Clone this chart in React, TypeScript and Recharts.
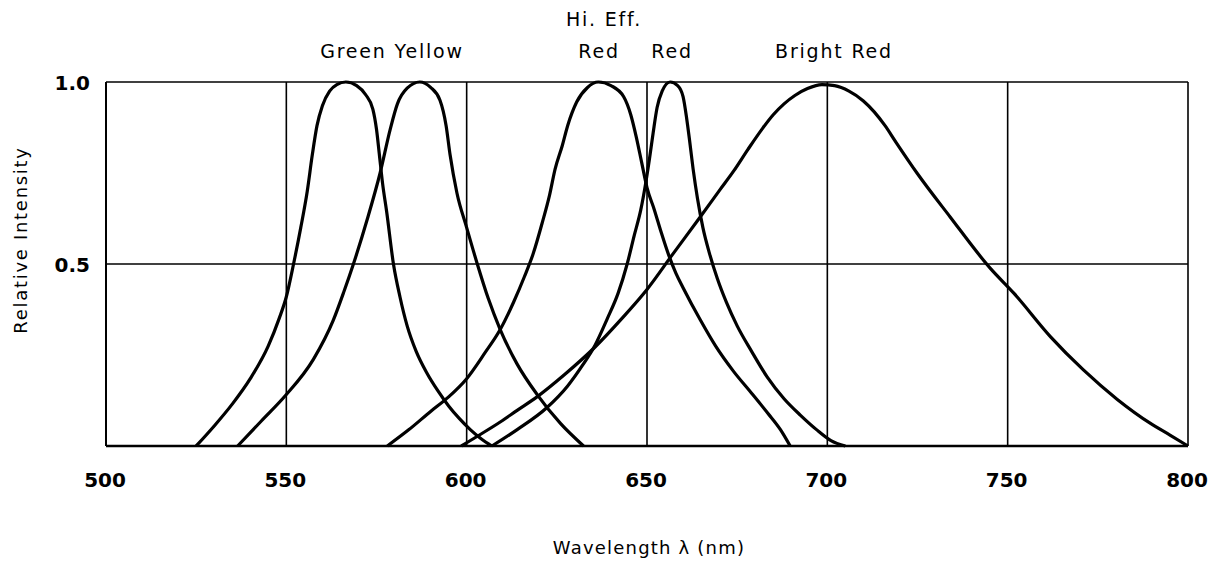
import { CartesianGrid, Line, LineChart, XAxis, YAxis } from "recharts";

type Pt = { nm: number; rel: number };

// wavelength ticks along the bottom
const nmTicks = [500, 550, 600, 650, 700, 750, 800];
const relTicks = [0, 0.5, 1];

// spectral curves (nm, relative intensity)
const greenYellow: Pt[] = [
  { nm: 525, rel: 0 }, { nm: 530, rel: 0.055 }, { nm: 535, rel: 0.115 },
  { nm: 540, rel: 0.185 }, { nm: 545, rel: 0.275 }, { nm: 548, rel: 0.35 },
  { nm: 550, rel: 0.41 }, { nm: 552, rel: 0.5 }, { nm: 554, rel: 0.6 },
  { nm: 555.8, rel: 0.7 }, { nm: 557.2, rel: 0.8 }, { nm: 558.5, rel: 0.88 },
  { nm: 560, rel: 0.935 }, { nm: 562, rel: 0.975 }, { nm: 564, rel: 0.993 },
  { nm: 566.5, rel: 1 }, { nm: 569.5, rel: 0.99 }, { nm: 572, rel: 0.965 },
  { nm: 574, rel: 0.925 }, { nm: 575, rel: 0.87 }, { nm: 575.8, rel: 0.8 },
  { nm: 576.7, rel: 0.72 }, { nm: 577.8, rel: 0.645 }, { nm: 579.7, rel: 0.5 },
  { nm: 581.5, rel: 0.41 }, { nm: 583.5, rel: 0.33 }, { nm: 586, rel: 0.26 },
  { nm: 589, rel: 0.2 }, { nm: 592, rel: 0.152 }, { nm: 595, rel: 0.11 },
  { nm: 598, rel: 0.075 }, { nm: 601, rel: 0.045 }, { nm: 604, rel: 0.02 },
  { nm: 607, rel: 0 },
];

const yellow: Pt[] = [
  { nm: 536.5, rel: 0 }, { nm: 543, rel: 0.068 }, { nm: 549.7, rel: 0.138 },
  { nm: 557.5, rel: 0.238 }, { nm: 563, rel: 0.345 }, { nm: 566, rel: 0.425 },
  { nm: 568.6, rel: 0.5 }, { nm: 572.5, rel: 0.625 }, { nm: 576, rel: 0.75 },
  { nm: 578.8, rel: 0.87 }, { nm: 580.8, rel: 0.94 }, { nm: 583.5, rel: 0.983 },
  { nm: 587, rel: 1 }, { nm: 590, rel: 0.985 }, { nm: 592.6, rel: 0.95 },
  { nm: 594.3, rel: 0.88 }, { nm: 595.4, rel: 0.8 }, { nm: 597.3, rel: 0.695 },
  { nm: 600, rel: 0.6 }, { nm: 602.8, rel: 0.505 }, { nm: 606, rel: 0.405 },
  { nm: 609.3, rel: 0.32 }, { nm: 614, rel: 0.225 }, { nm: 619.5, rel: 0.142 },
  { nm: 626, rel: 0.062 }, { nm: 632.4, rel: 0 },
];

const hiEffRed: Pt[] = [
  { nm: 578, rel: 0 }, { nm: 584, rel: 0.045 }, { nm: 590, rel: 0.095 },
  { nm: 595, rel: 0.135 }, { nm: 600, rel: 0.185 }, { nm: 605, rel: 0.255 },
  { nm: 609.3, rel: 0.32 }, { nm: 613, rel: 0.395 }, { nm: 616, rel: 0.465 },
  { nm: 618.5, rel: 0.53 }, { nm: 621, rel: 0.615 }, { nm: 623, rel: 0.69 },
  { nm: 624.5, rel: 0.76 }, { nm: 626.5, rel: 0.825 }, { nm: 628, rel: 0.88 },
  { nm: 630.5, rel: 0.945 }, { nm: 633.5, rel: 0.985 }, { nm: 636.5, rel: 1 },
  { nm: 640, rel: 0.99 }, { nm: 643.5, rel: 0.96 }, { nm: 645.5, rel: 0.91 },
  { nm: 647, rel: 0.85 }, { nm: 648.5, rel: 0.78 }, { nm: 650, rel: 0.71 },
  { nm: 652, rel: 0.65 }, { nm: 654, rel: 0.585 }, { nm: 656, rel: 0.525 },
  { nm: 658, rel: 0.475 }, { nm: 660, rel: 0.435 }, { nm: 664.8, rel: 0.346 },
  { nm: 669, rel: 0.275 }, { nm: 674, rel: 0.205 }, { nm: 679, rel: 0.145 },
  { nm: 683.5, rel: 0.09 }, { nm: 687, rel: 0.045 }, { nm: 689.7, rel: 0 },
];

const red: Pt[] = [
  { nm: 607, rel: 0 }, { nm: 614, rel: 0.045 }, { nm: 622.2, rel: 0.105 },
  { nm: 628, rel: 0.165 }, { nm: 632, rel: 0.22 }, { nm: 635.6, rel: 0.277 },
  { nm: 639, rel: 0.35 }, { nm: 642, rel: 0.42 }, { nm: 644.5, rel: 0.5 },
  { nm: 646.5, rel: 0.58 }, { nm: 648.3, rel: 0.65 }, { nm: 649.6, rel: 0.72 },
  { nm: 650.7, rel: 0.79 }, { nm: 651.7, rel: 0.86 }, { nm: 652.8, rel: 0.93 },
  { nm: 654.2, rel: 0.975 }, { nm: 656.4, rel: 1 }, { nm: 658.5, rel: 0.99 },
  { nm: 660, rel: 0.96 }, { nm: 661, rel: 0.9 }, { nm: 661.8, rel: 0.84 },
  { nm: 662.8, rel: 0.76 }, { nm: 664, rel: 0.68 }, { nm: 665.5, rel: 0.6 },
  { nm: 667.3, rel: 0.53 }, { nm: 669.5, rel: 0.46 }, { nm: 672, rel: 0.395 },
  { nm: 675, rel: 0.33 }, { nm: 679, rel: 0.26 }, { nm: 683.3, rel: 0.19 },
  { nm: 688, rel: 0.13 }, { nm: 692.5, rel: 0.085 }, { nm: 697, rel: 0.045 },
  { nm: 701, rel: 0.015 }, { nm: 705, rel: 0 },
];

const brightRed: Pt[] = [
  { nm: 598.5, rel: 0 }, { nm: 604, rel: 0.033 }, { nm: 609.3, rel: 0.066 },
  { nm: 614, rel: 0.098 }, { nm: 619.5, rel: 0.135 }, { nm: 627, rel: 0.195 },
  { nm: 635.6, rel: 0.272 }, { nm: 643, rel: 0.35 }, { nm: 650, rel: 0.43 },
  { nm: 657, rel: 0.525 }, { nm: 664.8, rel: 0.63 }, { nm: 670.3, rel: 0.705 },
  { nm: 674, rel: 0.755 }, { nm: 678, rel: 0.815 }, { nm: 682, rel: 0.872 },
  { nm: 685, rel: 0.91 }, { nm: 688, rel: 0.94 }, { nm: 691, rel: 0.963 },
  { nm: 694.5, rel: 0.982 }, { nm: 698.5, rel: 0.993 }, { nm: 702, rel: 0.99 },
  { nm: 706, rel: 0.975 }, { nm: 710, rel: 0.948 }, { nm: 713, rel: 0.918 },
  { nm: 716, rel: 0.88 }, { nm: 719, rel: 0.835 }, { nm: 725, rel: 0.748 },
  { nm: 734, rel: 0.63 }, { nm: 745.2, rel: 0.488 }, { nm: 751.7, rel: 0.42 },
  { nm: 761.9, rel: 0.3 }, { nm: 771, rel: 0.209 }, { nm: 780.4, rel: 0.128 },
  { nm: 789.6, rel: 0.062 }, { nm: 795, rel: 0.03 }, { nm: 800, rel: 0 },
];

const curves = [greenYellow, yellow, hiEffRed, red, brightRed];

const SANS = "'DejaVu Sans', 'Liberation Sans', sans-serif";

function XTick(props: any) {
  const { x, payload } = props;
  return (
    <text x={x - 1} y={487} textAnchor="middle" fontFamily={SANS} fontWeight="bold" fontSize={20} fill="#000">
      {payload.value}
    </text>
  );
}

function YTick(props: any) {
  const { y, payload } = props;
  if (payload.value === 0) return null;
  return (
    <text x={90} y={y + 8} textAnchor="end" fontFamily={SANS} fontWeight="bold" fontSize={20} fill="#000">
      {payload.value.toFixed(1)}
    </text>
  );
}

const topLabel = { fontFamily: SANS, fontSize: 19, letterSpacing: 1.8, fill: "#000" } as const;

export default function App() {
  return (
    <div style={{ position: "absolute", left: 0, top: 0, width: 1212, height: 565, background: "#fff" }}>
      <LineChart width={1212} height={565} margin={{ top: 82, right: 24, bottom: 0, left: 0 }}>
        <CartesianGrid stroke="#000" strokeWidth={1.6} />
        <XAxis
          dataKey="nm"
          type="number"
          domain={[500, 800]}
          ticks={nmTicks}
          height={119}
          tick={<XTick />}
          tickLine={false}
          axisLine={{ stroke: "#000", strokeWidth: 2.4 }}
          label={{
            content: () => (
              <text x={649} y={554} textAnchor="middle" fontFamily={SANS} fontSize={18} letterSpacing={1.2} fill="#000">
                Wavelength λ (nm)
              </text>
            ),
          }}
        />
        <YAxis
          type="number"
          domain={[0, 1]}
          ticks={relTicks}
          width={106}
          tick={<YTick />}
          tickLine={false}
          axisLine={{ stroke: "#000", strokeWidth: 2 }}
          label={{
            content: () => (
              <text
                x={27}
                y={240}
                transform="rotate(-90 27 240)"
                textAnchor="middle"
                fontFamily={SANS}
                fontSize={18}
                letterSpacing={1.7}
                fill="#000"
              >
                Relative Intensity
              </text>
            ),
          }}
        />
        {curves.map((c, i) => (
          <Line
            key={i}
            data={c}
            dataKey="rel"
            type="monotone"
            stroke="#000"
            strokeWidth={3.2}
            dot={false}
            activeDot={false}
            isAnimationActive={false}
          />
        ))}
      </LineChart>
      <svg width={1212} height={80} style={{ position: "absolute", left: 0, top: 0, pointerEvents: "none" }}>
        <text x={392} y={58} textAnchor="middle" {...topLabel}>Green Yellow</text>
        <text x={604} y={26} textAnchor="middle" {...topLabel}>Hi. Eff.</text>
        <text x={599} y={58} textAnchor="middle" {...topLabel}>Red</text>
        <text x={672} y={58} textAnchor="middle" {...topLabel}>Red</text>
        <text x={834} y={58} textAnchor="middle" {...topLabel}>Bright Red</text>
      </svg>
    </div>
  );
}
